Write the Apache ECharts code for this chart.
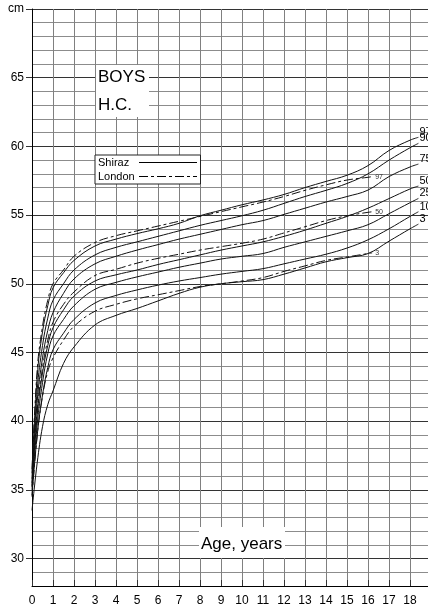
<!DOCTYPE html>
<html><head><meta charset="utf-8">
<script src="https://cdn.jsdelivr.net/npm/echarts@6/dist/echarts.min.js"></script>
<style>html,body{margin:0;padding:0;background:#fff}#c{width:428px;height:611px}</style>
</head><body><div id="c"></div>
<script>
// Ages (years) at which the curves were read
const ages = [0,0.25,0.5,0.75,1,1.5,2,3,4,5,6,7,8,9,10,11,12,13,14,15,16,17,18,18.4];
const londonAges = [0,0.25,0.5,0.75,1,1.5,2,3,4,5,6,7,8,9,10,11,12,13,14,15,16,16.2];

// Shiraz percentiles (cm)
const shirazP97 = [36.2,43.3,46.5,48.4,49.7,50.8,51.7,52.75,53.25,53.65,54.0,54.4,54.95,55.35,55.75,56.1,56.5,57.0,57.45,57.9,58.6,59.7,60.45,60.66];
const shirazP90 = [35.8,42.3,45.5,47.5,48.8,50.0,51.0,52.1,52.65,53.05,53.45,53.85,54.25,54.6,54.95,55.35,55.85,56.35,56.8,57.3,58.0,59.0,59.9,60.22];
const shirazP75 = [35.5,41.5,44.6,46.6,47.9,49.3,50.35,51.45,52.0,52.45,52.85,53.25,53.6,53.95,54.3,54.6,55.05,55.5,55.95,56.35,56.82,57.8,58.5,58.71];
const shirazP50 = [35.2,40.5,43.5,45.5,46.8,48.1,49.1,50.2,50.65,51.0,51.4,51.75,52.1,52.45,52.75,53.05,53.45,53.9,54.4,54.9,55.5,56.2,56.9,57.11];
const shirazP25 = [35.0,39.8,42.8,44.9,46.2,47.4,48.4,49.6,50.1,50.5,50.85,51.2,51.5,51.8,52.0,52.2,52.65,53.05,53.45,53.85,54.3,55.1,55.9,56.21];
const shirazP10 = [34.6,39.0,41.9,43.9,45.2,46.4,47.4,48.6,49.15,49.55,49.9,50.2,50.45,50.7,50.9,51.1,51.45,51.8,52.15,52.6,53.2,54.0,54.9,55.24];
const shirazP3  = [33.5,37.0,39.6,41.2,42.2,44.2,45.4,47.0,47.7,48.2,48.75,49.3,49.75,50.0,50.15,50.3,50.7,51.15,51.6,51.9,52.2,53.1,54.0,54.34];

// London percentiles (cm)
const londonP97 = [36.5,43.8,46.9,48.8,50.0,51.0,52.0,53.0,53.5,53.85,54.2,54.55,54.9,55.25,55.6,55.95,56.35,56.8,57.2,57.55,57.75,57.8];
const londonP50 = [35.3,40.8,43.9,45.9,47.2,48.5,49.4,50.6,51.05,51.5,51.85,52.15,52.45,52.7,52.95,53.25,53.7,54.15,54.6,54.95,55.2,55.24];
const londonP3  = [34.5,39.0,41.8,43.6,44.6,45.9,46.9,48.0,48.5,48.9,49.2,49.5,49.8,50.0,50.2,50.45,50.9,51.3,51.7,51.95,52.2,52.25];

const shirazLabels = ['97','90','75','50','25','10','3'];
const londonLabels = ['97','50','3'];
const xTickLabels = [0,1,2,3,4,5,6,7,8,9,10,11,12,13,14,15,16,17,18];
const yTickLabels = [30,35,40,45,50,55,60,65];

const FONT = '"Liberation Sans", Arial, Helvetica, sans-serif';
const chart = echarts.init(document.getElementById('c'), null, {renderer:'canvas'});
const pairs = (xs, ys) => xs.map((x, i) => [x, ys[i]]);

const shirazSets = [shirazP97, shirazP90, shirazP75, shirazP50, shirazP25, shirazP10, shirazP3];
const londonSets = [londonP97, londonP50, londonP3];
const DASH = [9, 3, 3, 3];

const series = [];
shirazSets.forEach((ys, i) => {
  series.push({
    type: 'line', name: 'Shiraz', data: pairs(ages, ys),
    smooth: 0.4, symbol: 'none', silent: true,
    itemStyle: {color: '#000'},
    lineStyle: {color: '#111', width: 1},
    endLabel: {show: true, formatter: shirazLabels[i], fontSize: 11, fontFamily: FONT, color: '#000', distance: 1, offset: [0, -5]},
    z: 3
  });
});
londonSets.forEach((ys, i) => {
  series.push({
    type: 'line', name: 'London', data: pairs(londonAges, ys),
    smooth: 0.4, symbol: 'none', silent: true,
    itemStyle: {color: '#000'},
    lineStyle: {color: '#111', width: 1, type: DASH},
    endLabel: {show: true, formatter: londonLabels[i], fontSize: 7, fontFamily: FONT, color: '#333', distance: 3, offset: [0, 0]},
    z: 3
  });
});

const hiddenMark = {color: 'rgba(0,0,0,0)', borderColor: 'rgba(0,0,0,0)', borderWidth: 0, opacity: 0};

const option = {
  animation: false,
  backgroundColor: '#fff',
  textStyle: {fontFamily: FONT},
  grid: [
    {left: 32, top: 9, right: 0, bottom: 25, outerBoundsMode: 'none', containLabel: false},
    {left: 32, top: 9, width: 396, height: 618.2, outerBoundsMode: 'none', containLabel: false}
  ],
  xAxis: [
    {
      type: 'value', gridIndex: 0, min: 0, max: 396 / 21, interval: 1,
      axisLine: {show: true, lineStyle: {color: '#000', width: 1}},
      axisTick: {show: true, inside: true, length: 6, lineStyle: {color: '#333'}},
      axisLabel: {show: true, fontSize: 12, color: '#000', margin: 9, showMaxLabel: false,
        formatter: v => (xTickLabels.indexOf(v) >= 0 ? String(v) : '')},
      splitLine: {show: true, lineStyle: {color: '#808080', width: 1}}
    },
    {type: 'value', gridIndex: 1, min: 0, max: 1, show: false}
  ],
  yAxis: [
    {
      type: 'value', gridIndex: 0, min: 28, max: 70, interval: 1,
      axisLine: {show: true, lineStyle: {color: '#000', width: 1}},
      axisTick: {show: false},
      axisLabel: {show: false},
      splitLine: {show: true, lineStyle: {color: ['#8c8c8c', '#8c8c8c', '#333', '#8c8c8c', '#8c8c8c'], width: 1}}
    },
    {
      type: 'value', gridIndex: 1, min: 25, max: 70, interval: 5,
      axisLine: {show: false},
      axisTick: {show: true, length: 6, lineStyle: {color: '#333'}},
      splitLine: {show: false},
      axisLabel: {show: true, fontSize: 12, color: '#000', margin: 8,
        formatter: v => (v === 70 ? 'cm' : (yTickLabels.indexOf(v) >= 0 ? String(v) : ''))}
    }
  ],
  legend: {
    show: true, orient: 'vertical', left: 95, top: 155, align: 'right',
    padding: [2, 3, 2, 3], itemGap: 3, itemWidth: 58, itemHeight: 12,
    backgroundColor: '#fff', borderColor: '#222', borderWidth: 1,
    selectedMode: false,
    itemStyle: hiddenMark,
    formatter: name => '{t|' + name + '}',
    textStyle: {fontSize: 11, color: '#000', fontFamily: FONT,
      rich: {t: {width: 36, align: 'left', fontSize: 11, color: '#000', fontFamily: FONT}}},
    data: [
      {name: 'Shiraz', itemStyle: hiddenMark, lineStyle: {color: '#000', width: 1, type: 'solid'}},
      {name: 'London', itemStyle: hiddenMark, lineStyle: {color: '#000', width: 1, type: DASH}}
    ]
  },
  graphic: [
    {type: 'rect', z: 100, shape: {x: 96, y: 65, width: 53, height: 52}, style: {fill: '#fff'}},
    {type: 'text', z: 101, x: 98, y: 77, style: {text: 'BOYS', fontSize: 17, fontFamily: FONT, fill: '#000', verticalAlign: 'middle'}},
    {type: 'text', z: 101, x: 98, y: 105.5, style: {text: 'H.C.', fontSize: 17, fontFamily: FONT, fill: '#000', verticalAlign: 'middle'}},
    {type: 'rect', z: 100, shape: {x: 199, y: 527, width: 86, height: 31}, style: {fill: '#fff'}},
    {type: 'text', z: 101, x: 201, y: 544, style: {text: 'Age, years', fontSize: 17, fontFamily: FONT, fill: '#000', verticalAlign: 'middle'}}
  ],
  series: series
};
chart.setOption(option);
</script></body></html>
